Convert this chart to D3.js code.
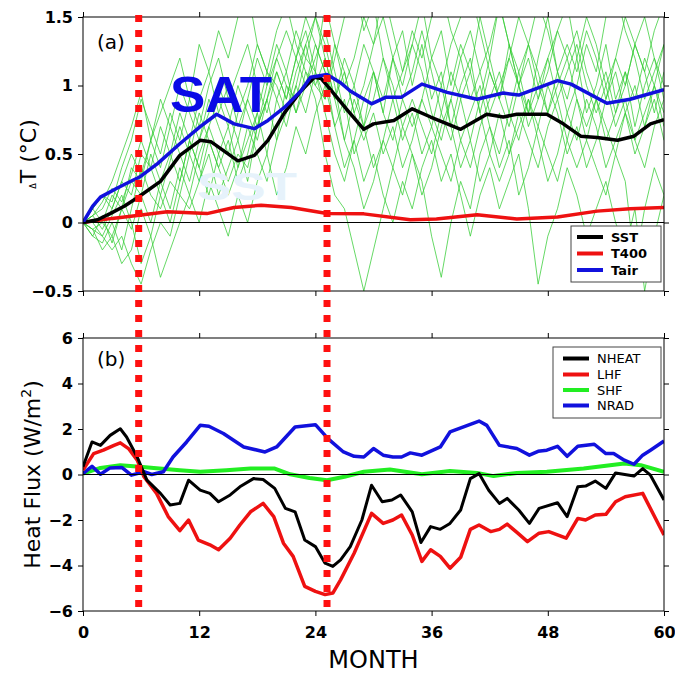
<!DOCTYPE html>
<html><head><meta charset="utf-8">
<script src="https://cdn.jsdelivr.net/npm/d3@7"></script>
<style>html,body{margin:0;padding:0;background:#fff;}svg{display:block;}</style>
</head><body>
<script>
// ---------------- DATA ----------------
const xTicks = [0, 12, 24, 36, 48, 60];
const yTicksTop = [-0.5, 0, 0.5, 1, 1.5];
const yTickLabelsTop = ["\u22120.5", "0", "0.5", "1", "1.5"];
const yTicksBot = [-6, -4, -2, 0, 2, 4, 6];
const yTickLabelsBot = ["\u22126", "\u22124", "\u22122", "0", "2", "4", "6"];
const markerMonths = [5.75, 25.2];

// panel (a): [month, value]
const sst = [[0,0],[1.5,0.02],[2.8,0.065],[4.3,0.12],[5.8,0.19],[8,0.3],[10,0.49],[12.1,0.6],[13.2,0.59],[16,0.45],[17.7,0.49],[19.1,0.6],[20.8,0.8],[22.5,0.96],[23.9,1.06],[24.6,1.05],[25.5,0.975],[27.3,0.82],[29,0.68],[30,0.72],[32.1,0.745],[34,0.83],[35.9,0.77],[39,0.68],[41.7,0.79],[43.4,0.77],[44.8,0.79],[47.9,0.79],[49.6,0.72],[51.4,0.63],[53.1,0.62],[55.2,0.6],[56.9,0.63],[58.6,0.72],[60,0.75]];
const t400 = [[0,0],[3,0.03],[5.8,0.053],[8.7,0.078],[12.8,0.065],[15.6,0.11],[18.4,0.126],[21.5,0.11],[25.2,0.065],[29,0.063],[33.8,0.02],[36.5,0.026],[40.7,0.056],[44.8,0.026],[49,0.04],[53.1,0.083],[56.5,0.1],[60,0.11]];
const tair = [[0,0],[1,0.12],[1.8,0.185],[3.5,0.25],[5.2,0.31],[5.8,0.33],[7.7,0.43],[10,0.575],[12.1,0.7],[13.8,0.79],[15.6,0.72],[17.7,0.685],[19.1,0.745],[20.8,0.84],[22.5,0.96],[23.5,1.06],[25.2,1.08],[26.6,1.02],[27.6,0.96],[29.8,0.866],[31.3,0.915],[32.9,0.915],[35,1.01],[37.6,0.95],[40.7,0.9],[43.4,0.945],[45,0.93],[49,1.036],[50.4,1.01],[54.1,0.87],[56.5,0.9],[60,0.97]];

// ensemble members (monthly, months 0..60)
const ens1 = [0,0.05,-0.05,0.1,0.3,0.2,0.5,0.4,0.7,0.5,0.8,0.6,0.9,1.1,0.8,1.0,0.7,0.9,1.2,1.0,1.3,1.1,1.4,1.2,1.5,1.3,1.0,0.6,0.9,0.7,1.1,0.8,1.2,1.4,1.0,1.3,0.9,1.1,0.7,1.0,1.2,0.8,1.1,0.9,1.3,1.0,0.8,1.2,1.5,1.1,0.9,1.2,0.8,1.0,1.3,0.9,1.1,0.7,1.0,1.2,0.9];
const ens2 = [0,-0.05,-0.1,-0.2,-0.1,-0.3,-0.45,-0.2,0.0,-0.1,0.2,0.1,0.3,0.5,0.2,0.4,0.6,0.3,0.7,0.9,0.6,1.0,0.8,1.1,0.9,0.5,0.2,0.1,-0.2,-0.5,-0.2,0.1,0.4,0.2,0.5,0.3,-0.1,-0.4,0.0,0.3,0.1,0.5,0.7,0.4,0.6,0.2,0.4,0.7,0.5,0.3,0.6,0.9,0.6,0.4,0.2,0.5,0.3,-0.3,0.1,0.4,0.2];
const ens3 = [0,0.1,0.2,0.15,0.4,0.6,0.9,0.7,0.5,0.8,0.6,0.9,0.7,1.0,1.2,0.9,1.1,1.3,1.0,0.8,1.1,0.9,1.2,1.4,1.1,1.6,1.3,1.0,1.2,1.5,1.3,1.7,1.4,1.1,1.3,1.6,1.2,1.4,1.0,1.3,1.1,1.5,1.2,1.6,1.3,1.0,1.2,0.9,1.1,1.4,1.6,1.2,1.5,1.3,1.0,1.2,1.5,1.3,1.1,1.4,1.6];
const ens4 = [0,-0.1,0.05,-0.15,0.1,0.3,0.2,0.0,0.3,0.5,0.3,0.6,0.4,0.2,0.5,0.7,0.4,0.6,0.8,0.5,0.9,1.1,0.8,1.0,1.3,1.1,0.7,0.9,0.5,0.7,0.4,0.6,0.9,0.6,0.8,0.5,0.7,1.0,0.7,0.4,0.6,0.3,0.5,0.8,0.5,0.7,0.9,0.6,0.3,0.5,0.8,0.6,0.9,0.7,0.4,0.6,0.8,0.5,0.7,1.0,0.8];
const ens5 = [0,0.05,0.15,0.3,0.5,0.7,0.95,0.6,0.8,1.0,1.2,0.9,1.3,1.1,1.4,1.2,1.5,1.7,1.3,1.1,1.0,0.8,1.1,1.3,1.0,0.9,1.2,1.5,1.8,1.4,1.6,1.2,0.9,1.1,1.4,1.2,1.5,1.7,1.4,1.2,0.9,1.1,0.8,1.0,1.2,1.5,1.3,1.6,1.4,1.1,0.8,1.0,1.3,1.1,1.5,1.7,1.4,1.2,0.9,1.1,1.3];
const ens6 = [0,-0.05,-0.2,-0.1,-0.3,-0.2,0.1,-0.1,-0.4,-0.2,0.0,0.2,0.0,0.3,0.1,-0.1,0.2,0.0,0.3,0.5,0.2,0.4,0.7,0.5,0.8,1.0,0.7,0.4,0.6,0.3,0.5,0.2,0.0,0.3,0.1,0.4,0.6,0.3,0.5,0.2,-0.1,0.2,0.4,0.1,0.3,0.5,0.1,-0.45,-0.1,0.1,0.4,0.2,-0.1,0.1,0.3,0.0,-0.2,0.1,-0.5,-0.1,0.2];
const ens7 = [0,0.1,0.0,0.2,0.1,0.4,0.3,0.6,0.9,0.7,1.0,0.8,0.6,0.9,0.7,0.5,0.8,1.0,1.3,1.1,1.4,1.6,1.3,1.1,1.0,1.2,0.9,1.1,0.8,1.0,1.3,1.5,1.2,0.9,0.7,0.9,1.2,1.0,1.3,1.5,1.7,1.4,1.1,0.9,1.2,1.0,1.3,1.1,0.8,1.0,1.2,1.4,1.1,0.9,1.1,0.8,1.0,1.3,1.5,1.2,1.0];
const ens8 = [0,-0.1,-0.15,0.0,-0.2,0.1,0.4,0.2,0.1,0.3,0.2,0.5,0.3,0.6,0.4,0.2,0.4,0.7,0.5,0.3,0.6,0.8,1.0,0.8,1.1,0.9,1.3,1.1,0.8,0.6,0.8,0.5,0.7,0.4,0.6,0.9,0.7,0.5,0.3,0.6,0.4,0.7,0.9,1.1,0.8,0.6,0.9,0.7,1.0,0.8,0.5,0.7,0.4,0.6,0.9,1.1,0.8,0.6,0.4,0.7,0.9];
const ens9 = [0,0.1,0.2,0.1,0.3,0.5,0.35,0.6,0.4,0.7,0.5,0.3,0.6,0.8,1.0,0.8,0.6,0.9,0.7,1.0,1.2,1.0,0.9,1.2,1.1,0.8,0.5,0.3,0.6,0.9,1.1,0.8,0.6,0.9,1.1,1.4,1.1,0.8,1.1,0.9,0.6,0.9,1.2,0.9,0.7,1.0,0.7,0.9,1.2,0.9,1.1,1.3,1.0,0.8,1.0,0.7,0.9,0.6,0.8,1.0,0.7];
const ens10 = [0,0.0,-0.1,0.05,0.2,0.0,-0.3,-0.1,0.2,0.0,0.3,0.6,0.4,0.7,0.9,0.7,1.0,0.8,0.6,0.9,1.2,1.4,1.2,1.5,1.3,1.1,0.9,1.2,1.0,0.7,0.9,1.2,1.0,0.7,0.5,0.2,0.4,0.7,0.9,0.6,0.8,1.0,0.7,0.5,0.8,1.1,1.3,1.0,1.2,1.4,1.2,0.9,0.7,0.9,0.6,0.8,1.1,0.9,1.2,1.0,1.3];
const ens11 = [0,0.05,0.1,0.25,0.15,0.35,0.6,0.4,0.2,0.45,0.7,0.5,0.8,0.6,0.4,0.6,0.3,0.5,0.8,1.1,0.9,0.7,1.0,1.3,1.5,1.2,0.9,0.6,0.4,0.1,0.3,0.6,0.4,0.7,0.9,0.7,0.5,0.8,0.6,0.9,1.1,0.8,0.5,0.3,0.5,0.8,0.6,0.4,0.7,0.9,0.6,0.4,0.6,0.9,0.7,0.5,0.8,1.0,0.7,0.9,0.6];
const ens12 = [0,-0.05,0.0,-0.1,0.1,-0.05,0.2,0.5,0.3,0.1,0.4,0.2,0.5,0.7,0.5,0.3,0.5,0.4,0.7,0.9,1.1,0.9,1.2,1.0,1.2,1.4,1.1,0.8,1.0,1.3,1.1,0.9,1.2,1.0,1.3,1.1,0.8,0.6,0.9,1.2,1.4,1.1,1.3,1.6,1.3,1.1,0.8,1.0,0.8,1.1,1.3,1.1,1.4,1.2,0.9,1.2,1.0,1.3,1.1,0.8,1.1];
const ensemble = [ens1, ens2, ens3, ens4, ens5, ens6, ens7, ens8, ens9, ens10, ens11, ens12];

// panel (b)
const nheat = [[0,0.34],[0.93,1.43],[1.8,1.28],[2.8,1.72],[3.85,2.01],[4.5,1.65],[5.6,0.77],[6.6,-0.25],[8,-0.83],[9,-1.34],[10,-1.27],[10.9,-0.25],[12.1,-0.69],[13.1,-0.83],[14,-1.2],[15.2,-0.9],[16.2,-0.54],[17.6,-0.18],[18.6,-0.22],[19.8,-0.61],[20.9,-1.49],[21.9,-1.64],[22.9,-2.88],[24,-3.17],[25,-3.9],[25.8,-4.04],[26.6,-3.75],[27.6,-3.17],[28.8,-2.0],[29.8,-0.47],[30.9,-1.2],[31.9,-1.12],[32.8,-0.9],[34,-1.64],[34.9,-2.99],[35.9,-2.29],[36.9,-2.41],[37.9,-2.15],[39,-1.56],[40,-0.18],[40.9,0.04],[41.9,-0.69],[43,-1.27],[43.8,-1.05],[45,-1.56],[46.1,-2.15],[47.1,-1.49],[49,-1.24],[50,-1.85],[51.1,-0.54],[51.9,-0.51],[52.9,-0.29],[54,-0.61],[55,0.07],[56.9,-0.07],[57.8,0.26],[58.6,-0.03],[60,-1.12]];
const lhf = [[0,0.19],[1.1,0.92],[2.1,1.07],[3.2,1.28],[3.85,1.39],[4.7,1.14],[5.6,0.63],[6.3,-0.1],[7.6,-0.83],[8.8,-1.85],[10,-2.47],[10.9,-2.0],[11.9,-2.88],[13.1,-3.09],[14,-3.31],[15.2,-2.8],[16.2,-2.22],[17.3,-1.64],[18.6,-1.27],[19.7,-1.85],[20.7,-3.02],[21.7,-3.6],[22.9,-4.92],[24,-5.14],[25,-5.28],[25.8,-5.21],[26.6,-4.63],[28,-3.46],[29.8,-1.71],[31,-2.15],[32,-2.0],[32.9,-1.78],[34,-2.66],[35,-3.82],[35.9,-3.31],[36.9,-3.6],[37.9,-4.12],[39,-3.64],[40,-2.41],[40.9,-2.22],[42.1,-2.51],[43,-2.41],[43.8,-2.18],[44.9,-2.58],[45.9,-2.95],[47.1,-2.58],[48.1,-2.51],[49.9,-2.8],[51.1,-1.93],[51.9,-2.0],[52.9,-1.78],[54,-1.75],[55,-1.2],[56,-0.98],[57.8,-0.83],[60,-2.66]];
const shf = [[0,0.04],[1.8,0.29],[3.85,0.41],[5.9,0.34],[7.3,0.29],[10,0.19],[12.1,0.12],[14.8,0.19],[17.3,0.26],[19.8,0.26],[21.4,0.01],[23.4,-0.15],[25.2,-0.25],[27,-0.1],[29,0.12],[31.7,0.22],[35,0.01],[37.9,0.15],[40.7,0.07],[42.4,-0.07],[44.8,0.07],[47.9,0.12],[51.7,0.26],[55.9,0.48],[57.6,0.41],[60,0.12]];
const nrad = [[0,0.04],[0.93,0.36],[1.8,0.01],[2.8,0.29],[4,0.31],[5,-0.03],[6.3,0.12],[7.1,0],[8.3,0.12],[9.3,0.77],[10.7,1.43],[12.1,2.16],[13,2.12],[14.5,1.8],[16.6,1.21],[18.8,0.99],[20,1.21],[21.9,2.09],[24,2.19],[25,1.72],[25.5,1.5],[26.9,0.99],[28,0.8],[29,0.77],[30,1.14],[31,0.85],[32,0.77],[32.9,0.77],[33.8,0.95],[35,0.85],[36.9,1.21],[37.9,1.87],[39.3,2.09],[40.9,2.35],[41.7,2.16],[43,1.28],[44.8,1.14],[46.1,0.85],[47,1.02],[47.9,1.07],[49,1.24],[50,0.8],[51.1,1.24],[52.8,1.33],[54,0.92],[54.8,0.92],[55.9,0.63],[56.9,0.45],[57.8,0.85],[58.6,1.07],[60,1.47]];

const legendTop = ["SST", "T400", "Tair"];
const legendBot = ["NHEAT", "LHF", "SHF", "NRAD"];

// ---------------- STYLE ----------------
const C = {black:"#000000", red:"#ee1111", blue:"#1111dd", green:"#22ee22", ens:"#33cc33"};
const W = 675, H = 676;
const L = 83, R = 664;
const topP = {t:17, b:291}, botP = {t:338, b:611};

const svg = d3.select("body").append("svg").attr("width", W).attr("height", H);

const x = d3.scaleLinear().domain([0, 60]).range([L, R]);
const yA = d3.scaleLinear().domain([-0.5, 1.5]).range([topP.b, topP.t]);
const yB = d3.scaleLinear().domain([-6, 6]).range([botP.b, botP.t]);

const tickFont = "'DejaVu Sans', sans-serif";

svg.append("defs").append("clipPath").attr("id", "clipA")
  .append("rect").attr("x", L).attr("y", topP.t).attr("width", R - L).attr("height", topP.b - topP.t);
svg.select("defs").append("clipPath").attr("id", "clipB")
  .append("rect").attr("x", L).attr("y", botP.t).attr("width", R - L).attr("height", botP.b - botP.t);

// ---- panel (a) ----
const gA = svg.append("g");
const gAc = gA.append("g").attr("clip-path", "url(#clipA)");
const lineIdx = d3.line().x((d, i) => x(i)).y(d => yA(d));
gAc.selectAll("path.ens").data(ensemble).join("path")
  .attr("d", lineIdx).attr("fill", "none").attr("stroke", C.ens)
  .attr("stroke-width", 1).attr("stroke-opacity", 0.75);

// zero line
gA.append("line").attr("x1", L).attr("x2", R).attr("y1", yA(0)).attr("y2", yA(0))
  .attr("stroke", "#000").attr("stroke-width", 1);

// SAT / SST labels
gA.append("text").attr("x", 170).attr("y", 112).text("SAT")
  .attr("font-family", "'Liberation Sans', Arial, sans-serif").attr("font-weight", "bold")
  .attr("font-size", 50).attr("fill", "#0a0ae6")
  .attr("textLength", 102).attr("lengthAdjust", "spacingAndGlyphs");
gA.append("text").attr("x", 197).attr("y", 200).text("SST")
  .attr("font-family", "'Liberation Sans', Arial, sans-serif").attr("font-weight", "bold")
  .attr("font-size", 39).attr("fill", "#e6f2fb")
  .attr("textLength", 100).attr("lengthAdjust", "spacingAndGlyphs");

const linePair = (ys) => d3.line().x(d => x(d[0])).y(d => ys(d[1]));
const mainA = [[t400, C.red], [sst, C.black], [tair, C.blue]];
mainA.forEach(([data, col]) => {
  gAc.append("path").attr("d", linePair(yA)(data)).attr("fill", "none")
    .attr("stroke", col).attr("stroke-width", 3.5).attr("stroke-linejoin", "round");
});

// ---- panel (b) ----
const gB = svg.append("g");
const gBc = gB.append("g").attr("clip-path", "url(#clipB)");
gB.append("line").attr("x1", L).attr("x2", R).attr("y1", yB(0)).attr("y2", yB(0))
  .attr("stroke", "#000").attr("stroke-width", 1);
const mainB = [[shf, C.green, 4], [nrad, C.blue, 3.5], [lhf, C.red, 3.5], [nheat, C.black, 3]];
mainB.forEach(([data, col, w]) => {
  gBc.append("path").attr("d", linePair(yB)(data)).attr("fill", "none")
    .attr("stroke", col).attr("stroke-width", w).attr("stroke-linejoin", "round");
});

// ---- frames and axes ----
function frame(g, ys, p, yTicks, yLabels, showX) {
  g.append("rect").attr("x", L).attr("y", p.t).attr("width", R - L).attr("height", p.b - p.t)
    .attr("fill", "none").attr("stroke", "#000").attr("stroke-width", 1);
  const axL = d3.axisLeft(ys).tickValues(yTicks).tickSize(5).tickFormat((d, i) => yLabels[i]);
  const gl = g.append("g").attr("transform", `translate(${L},0)`).call(axL);
  const axR = d3.axisRight(ys).tickValues(yTicks).tickSize(5).tickFormat("");
  const gr = g.append("g").attr("transform", `translate(${R},0)`).call(axR);
  const axT = d3.axisTop(x).tickValues(xTicks).tickSize(5).tickFormat("");
  const gt = g.append("g").attr("transform", `translate(0,${p.t})`).call(axT);
  const axBm = d3.axisBottom(x).tickValues(xTicks).tickSize(5).tickFormat(showX ? d3.format("d") : "");
  const gb = g.append("g").attr("transform", `translate(0,${p.b})`).call(axBm);
  [gl, gr, gt, gb].forEach(a => {
    a.select(".domain").remove();
    a.selectAll("line").attr("stroke", "#000");
    a.selectAll("text").attr("font-family", tickFont).attr("font-weight", "bold")
      .attr("font-size", 16).attr("fill", "#000");
  });
  gl.selectAll("text").attr("x", -10);
  if (showX) gb.selectAll("text").attr("y", 21).attr("dy", "0.35em");
}
frame(gA, yA, topP, yTicksTop, yTickLabelsTop, false);
frame(gB, yB, botP, yTicksBot, yTickLabelsBot, true);

// panel letters
svg.append("text").attr("x", 97).attr("y", 49).text("(a)")
  .attr("font-family", tickFont).attr("font-size", 20);
svg.append("text").attr("x", 97).attr("y", 366).text("(b)")
  .attr("font-family", tickFont).attr("font-size", 20);

// axis titles
const tA = svg.append("text").attr("transform", `translate(36,${(topP.t + topP.b) / 2}) rotate(-90)`)
  .attr("text-anchor", "middle").attr("font-family", tickFont).attr("font-size", 22);
tA.append("tspan").attr("font-size", 8).text("\u0394");
tA.append("tspan").text("T (\u00B0C)");

const tB = svg.append("text").attr("transform", `translate(40,${(botP.t + botP.b) / 2}) rotate(-90)`)
  .attr("text-anchor", "middle").attr("font-family", tickFont).attr("font-size", 22);
tB.append("tspan").text("Heat Flux (W/m");
tB.append("tspan").attr("font-size", 14).attr("dy", -9).text("2");
tB.append("tspan").attr("dy", 9).text(")");

svg.append("text").attr("x", (L + R) / 2).attr("y", 668).attr("text-anchor", "middle")
  .attr("font-family", tickFont).attr("font-size", 24).text("MONTH");

// ---- vertical marker lines ----
svg.selectAll("line.marker").data(markerMonths).join("line")
  .attr("x1", d => x(d)).attr("x2", d => x(d)).attr("y1", 15).attr("y2", 609)
  .attr("stroke", "#ff1010").attr("stroke-width", 7).attr("stroke-dasharray", "7,8");

// ---- legends ----
function legend(labels, colors, box, rowY, bold) {
  const g = svg.append("g");
  g.append("rect").attr("x", box.x).attr("y", box.y).attr("width", box.w).attr("height", box.h)
    .attr("fill", "#fff").attr("stroke", "#444").attr("stroke-width", 1);
  labels.forEach((lab, i) => {
    const yy = box.y + rowY[i];
    g.append("line").attr("x1", box.x + box.l0).attr("x2", box.x + box.l1).attr("y1", yy).attr("y2", yy)
      .attr("stroke", colors[i]).attr("stroke-width", 4);
    g.append("text").attr("x", box.x + box.tx).attr("y", yy).attr("dy", "0.36em").text(lab)
      .attr("font-family", tickFont).attr("font-size", 13)
      .attr("font-weight", bold ? "bold" : "normal");
  });
}
legend(legendTop, [C.black, C.red, C.blue], {x:571, y:226, w:90, h:56, l0:6, l1:32, tx:40}, [11, 27.5, 44], true);
legend(legendBot, [C.black, C.red, C.green, C.blue], {x:553, y:347, w:108, h:71, l0:10, l1:36, tx:44}, [11.5, 27.5, 43, 58.5], false);
</script>
</body></html>
